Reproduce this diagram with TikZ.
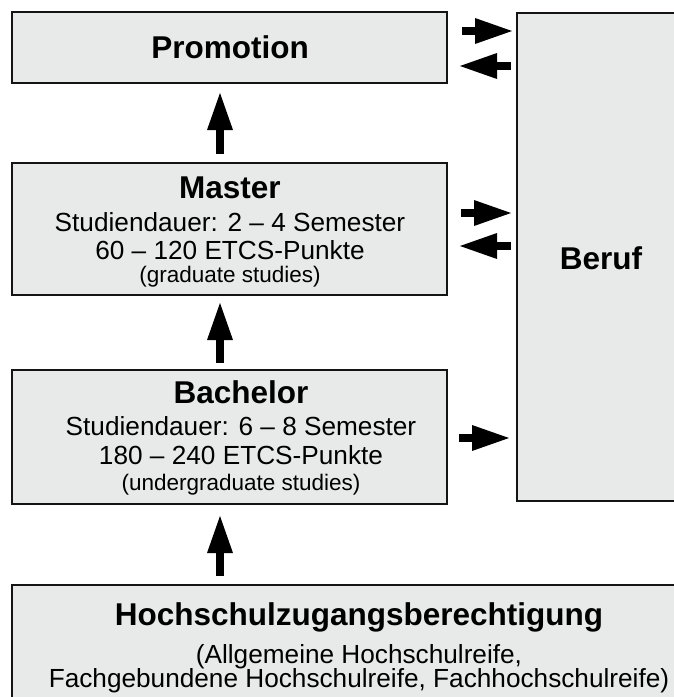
\documentclass[tikz,border=0pt]{standalone}
\usepackage{fontspec}
\setmainfont{Liberation Sans}
\usetikzlibrary{arrows.meta,calc}
\definecolor{boxfill}{RGB}{232,233,233}
\definecolor{boxline}{RGB}{20,20,20}
\begin{document}
\begin{tikzpicture}[x=1pt,y=-1pt,
  box/.style={draw=boxline, fill=boxfill, line width=2.2pt, rectangle, outer sep=0pt, inner sep=0pt, anchor=north west},
  barrow/.style={line width=8.5pt, draw=black, -{Triangle[length=37pt,width=26pt,line width=0pt]}},
  head/.style={font=\fontsize{31.5}{31.5}\selectfont\bfseries, anchor=base, inner sep=0pt},
  body/.style={font=\fontsize{26.2}{26.2}\selectfont, anchor=base, inner sep=0pt},
  note/.style={font=\fontsize{22.5}{22.5}\selectfont, anchor=base, inner sep=0pt}]
\useasboundingbox (0,0) rectangle (673,697);

\node[box, minimum width=435pt, minimum height=71pt] (prom) at (12,12) {};
\node[box, minimum width=435pt, minimum height=132pt] (master) at (12,163) {};
\node[box, minimum width=435pt, minimum height=134pt] (bach) at (12,370) {};
\node[box, minimum width=700pt, minimum height=140pt] (hzb) at (12,585) {};
\node[box, minimum width=180pt, minimum height=488pt] (beruf) at (517,13) {};

\node[head] (tprom) at (230,58) {Promotion};

\node[head] (tmaster) at (230,198) {Master};
\node[body] (mdur) at (230,231) {Studiendauer: 2 – 4 Semester};
\node[body] (mects) at (230,259) {60 – 120 ETCS-Punkte};
\node[note] (mnote) at (230,282) {(graduate studies)};

\node[head] (tbach) at (241,403) {Bachelor};
\node[body] (bdur) at (241,435) {Studiendauer: 6 – 8 Semester};
\node[body] (bects) at (241,464) {180 – 240 ETCS-Punkte};
\node[note] (bnote) at (241,490) {(undergraduate studies)};

\node[head] (thzb) at (359,625) {Hochschulzugangsberechtigung};
\node[body] (hz1) at (359,663) {(Allgemeine Hochschulreife,};
\node[body] (hz2) at (359,687) {Fachgebundene Hochschulreife, Fachhochschulreife)};

\node[head] (tberuf) at (601,269) {Beruf};

\coordinate (ax) at (220,0);
\draw[barrow, shorten <=9pt, shorten >=10pt] (master.north -| ax) -- (prom.south -| ax);
\draw[barrow, shorten <=7pt, shorten >=8pt] (bach.north -| ax) -- (master.south -| ax);
\draw[barrow, shorten <=9pt, shorten >=12pt] (hzb.north -| ax) -- (bach.south -| ax);

\draw[barrow, shorten <=15pt, shorten >=5pt] (prom.east |- 0,31) -- (beruf.west |- 0,31);
\draw[barrow, shorten <=6pt, shorten >=13pt] (beruf.west |- 0,66) -- (prom.east |- 0,66);
\draw[barrow, shorten <=14pt, shorten >=6pt] (master.east |- 0,213) -- (beruf.west |- 0,213);
\draw[barrow, shorten <=6pt, shorten >=13pt] (beruf.west |- 0,246) -- (master.east |- 0,246);
\draw[barrow, shorten <=12pt, shorten >=8pt] (bach.east |- 0,438) -- (beruf.west |- 0,438);
\end{tikzpicture}
\end{document}
